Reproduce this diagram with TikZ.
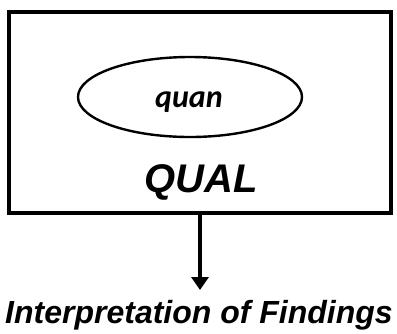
\documentclass[tikz,border=0pt]{standalone}
\usepackage{fontspec}
\setmainfont{Liberation Sans}
\newfontfamily\quanfont{Carlito}
\usetikzlibrary{shapes.geometric,arrows.meta}
\begin{document}
\begin{tikzpicture}[x=1pt,y=-1pt,
  frame/.style={draw=black,line width=4pt,rectangle,minimum width=382pt,minimum height=201pt,inner sep=0pt},
  oval/.style={draw=black,line width=2.4pt,ellipse,minimum width=224pt,minimum height=80pt,inner sep=0pt},
  bigtext/.style={font=\fontsize{40}{44}\selectfont\bfseries\itshape,inner sep=0pt},
  findtext/.style={font=\fontsize{32}{36}\selectfont\bfseries\itshape,inner sep=0pt},
  flow/.style={line width=4pt,-{Triangle[width=17pt,length=13pt]}}]
\useasboundingbox (0,0) rectangle (397,333);
\node[frame] (box) at (200,112.5) {};
\node[oval] (quan) at (190,97) {};
\node[font=\quanfont\fontsize{32}{36}\selectfont\bfseries\itshape,inner sep=0pt,anchor=base] (quantext) at (189,107) {quan};
\node[bigtext,anchor=base] (qual) at (201,192) {QUAL};
\node[findtext,anchor=base] (interp) at (199,323) {Interpretation of Findings};
\coordinate (tip) at (200,290);
\draw[flow] (box.south) -- (tip);
\end{tikzpicture}
\end{document}
